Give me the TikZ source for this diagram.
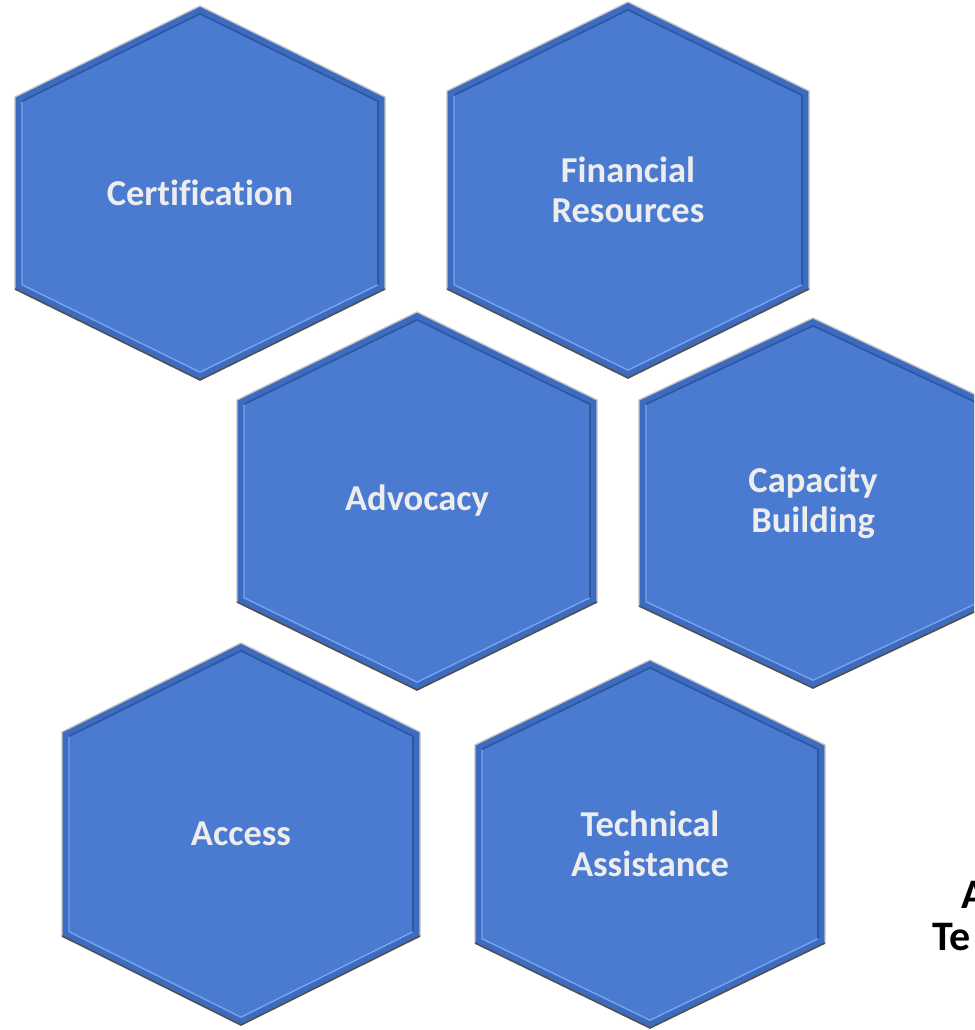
\documentclass[tikz,border=0pt]{standalone}
\usepackage{fontspec}
\setmainfont{Carlito}[Ligatures=NoCommon]
\definecolor{hexfill}{HTML}{4A7BD0}
\definecolor{hexband}{HTML}{3D6BC0}
\definecolor{hexlight}{HTML}{78A4EC}
\definecolor{hexdark}{HTML}{2C56A0}
\definecolor{rimlight}{HTML}{C4C4C4}
\definecolor{rimdark}{HTML}{505050}
\definecolor{labelgray}{HTML}{EDEDED}
\tikzset{
  hexlabel/.style={text=labelgray, font=\fontsize{36.5}{40}\selectfont\bfseries, align=center, inner sep=0pt},
  sidetext/.style={text=black, font=\fontsize{42}{44}\selectfont\bfseries, anchor=base west, inner sep=0pt}
}
% \hexcell{name}{cx}{cy}{half width}{half height}{corner offset}{label}
% positions in px from the top-left corner; the bevel is about 7px wide
\newcommand{\hexcell}[7]{%
  \begin{scope}[shift={(#2pt,-#3pt)}]
    \pgfmathsetmacro{\hw}{#4}\pgfmathsetmacro{\hh}{#5}\pgfmathsetmacro{\cd}{#6}
    \pgfmathsetmacro{\iw}{#4-7}\pgfmathsetmacro{\ih}{#5-7.8}\pgfmathsetmacro{\ic}{#6-4.3}
    % outer rim and bevel band
    \fill[hexband] (0,\hh pt) -- (\hw pt,\cd pt) -- (\hw pt,-\cd pt) -- (0,-\hh pt) -- (-\hw pt,-\cd pt) -- (-\hw pt,\cd pt) -- cycle;
    \draw[rimlight, line width=1.3pt, line join=miter] (-\hw pt,-\cd pt) -- (-\hw pt,\cd pt) -- (0,\hh pt) -- (\hw pt,\cd pt) -- (\hw pt,-\cd pt);
    \draw[rimdark, line width=1.6pt, line join=miter] (-\hw pt,-\cd pt) -- (0,-\hh pt) -- (\hw pt,-\cd pt);
    % inner face
    \fill[hexfill] (0,\ih pt) -- (\iw pt,\ic pt) -- (\iw pt,-\ic pt) -- (0,-\ih pt) -- (-\iw pt,-\ic pt) -- (-\iw pt,\ic pt) -- cycle;
    \draw[hexlight, line width=1.4pt] (\iw pt,-\ic pt) -- (0,-\ih pt) -- (-\iw pt,-\ic pt) -- (-\iw pt,\ic pt);
    \draw[hexdark, line width=1.6pt] (-\iw pt,\ic pt) -- (0,\ih pt) -- (\iw pt,\ic pt) -- (\iw pt,-\ic pt);
    \node[hexlabel] (#1) at (0,0) {#7};
  \end{scope}}
\begin{document}
\begin{tikzpicture}
  \useasboundingbox (0,0) rectangle (974pt,-1030pt);
  \fill[white] (0,0) rectangle (974pt,-1030pt);
  \clip (0,0) rectangle (974pt,-1030pt);
  \hexcell{cert}{200}{193}{185}{187}{96}{Certification}
  \hexcell{fin}{628}{190}{181}{188}{99}{Financial\\Resources}
  \hexcell{adv}{417}{501}{180}{189}{101}{Advocacy}
  \hexcell{cap}{813}{503}{174}{185}{103}{Capacity\\Building}
  \hexcell{acc}{241}{834}{179}{191}{102}{Access}
  \hexcell{tech}{650}{844}{175}{184}{99}{Technical\\Assistance}
  % text running off the right edge
  \node[sidetext] (sideA) at (961pt,-908pt) {A};
  \node[sidetext] (sideTe) at (932pt,-950pt) {Te};
\end{tikzpicture}
\end{document}
